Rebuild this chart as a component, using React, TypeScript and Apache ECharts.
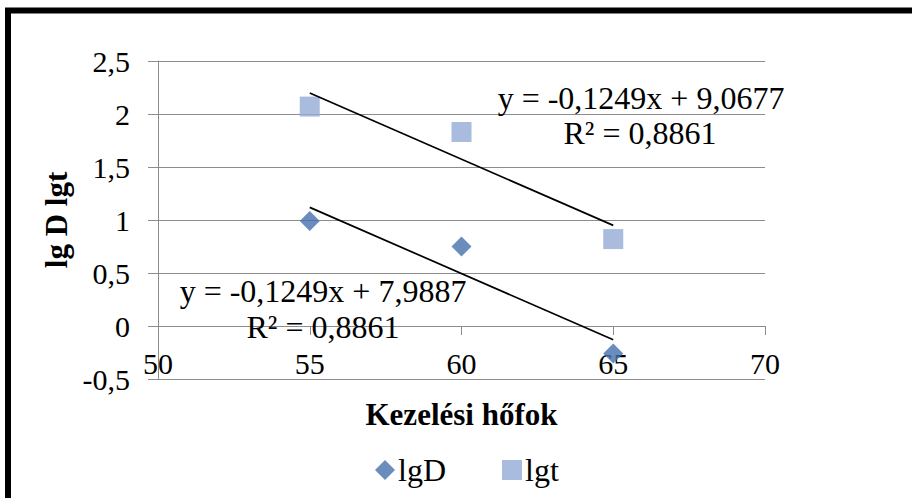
import React, { useEffect, useRef } from "react";
import * as echarts from "echarts";

const xValues = [55, 60, 65];
const lgD = [0.99, 0.75, -0.26];
const lgt = [2.07, 1.83, 0.82];
const seriesNames = ["lgD", "lgt"];
const trendD = { slope: -0.1249, intercept: 7.9887, r2: "0,8861" };
const trendT = { slope: -0.1249, intercept: 9.0677, r2: "0,8861" };
const xTicks = { min: 50, max: 70, interval: 5 };
const yTicks = { min: -0.5, max: 2.5, interval: 0.5 };

const FONT = "'Liberation Serif', 'Times New Roman', serif";
const GRAY = "#8c8c8c";
const C_D = "#4571AD";
const C_T = "#95ABD4";

const fmt = (v: number) => String(v).replace(".", ",");
const eqText = (t: { slope: number; intercept: number }) =>
  `y = ${fmt(t.slope)}x + ${fmt(t.intercept)}`;

export default function App() {
  const ref = useRef<HTMLDivElement>(null);
  useEffect(() => {
    if (!ref.current) return;
    const chart = echarts.init(ref.current, null, { renderer: "svg" });
    const trendData = (t: { slope: number; intercept: number }) =>
      [xValues[0], xValues[xValues.length - 1]].map((x) => [x, t.slope * x + t.intercept]);
    // plot height 318px for 3 units -> x axis crossing at y = 0 sits 53px above the bottom
    const zeroOffset = -((0 - yTicks.min) / (yTicks.max - yTicks.min)) * 318;
    chart.setOption({
      animation: false,
      backgroundColor: "#fff",
      textStyle: { fontFamily: FONT },
      grid: { left: 158, right: 147, top: 61, bottom: 119 },
      xAxis: {
        type: "value",
        min: xTicks.min,
        max: xTicks.max,
        interval: xTicks.interval,
        offset: zeroOffset,
        name: "Kezelési hőfok",
        nameLocation: "middle",
        nameGap: 73,
        nameTextStyle: { fontFamily: FONT, fontSize: 31, fontWeight: "bold", color: "#000" },
        axisLine: { onZero: false, lineStyle: { color: GRAY, width: 1 } },
        axisTick: { show: true, length: 9, lineStyle: { color: GRAY } },
        axisLabel: { fontFamily: FONT, fontSize: 30, color: "#000", margin: 22, formatter: fmt },
        splitLine: { show: false },
      },
      yAxis: {
        type: "value",
        min: yTicks.min,
        max: yTicks.max,
        interval: yTicks.interval,
        name: "lg D lgt",
        nameLocation: "middle",
        nameRotate: 90,
        nameGap: 86,
        nameTextStyle: { fontFamily: FONT, fontSize: 31, fontWeight: "bold", color: "#000" },
        axisLine: { show: true, onZero: false, lineStyle: { color: GRAY, width: 1 } },
        axisTick: { show: true, length: 10, lineStyle: { color: GRAY } },
        axisLabel: { fontFamily: FONT, fontSize: 30, color: "#000", margin: 28, formatter: fmt },
        splitLine: { show: true, lineStyle: { color: GRAY, width: 1 } },
      },
      legend: {
        data: [
          { name: seriesNames[0], icon: "diamond" },
          { name: seriesNames[1], icon: "rect" },
        ],
        left: 375,
        top: 454,
        padding: 0,
        itemWidth: 20,
        itemHeight: 20,
        itemGap: 56,
        textStyle: { fontFamily: FONT, fontSize: 32, color: "#000", padding: [0, 0, 0, -2] },
      },
      graphic: [
        {
          type: "rect",
          shape: { x: 8, y: 10.5, width: 1200, height: 1200 },
          style: { fill: "none", stroke: "#000", lineWidth: 6 },
          z: 100,
          silent: true,
        },
        {
          type: "text",
          x: 641,
          y: 98,
          style: { text: eqText(trendT), font: `32px ${FONT}`, fill: "#000", textAlign: "center", textVerticalAlign: "middle" },
          z: 50,
        },
        {
          type: "text",
          x: 640,
          y: 133,
          style: { text: `R² = ${trendT.r2}`, font: `32px ${FONT}`, fill: "#000", textAlign: "center", textVerticalAlign: "middle" },
          z: 50,
        },
        {
          type: "text",
          x: 323,
          y: 291,
          style: { text: eqText(trendD), font: `32px ${FONT}`, fill: "#000", textAlign: "center", textVerticalAlign: "middle" },
          z: 50,
        },
        {
          type: "text",
          x: 323,
          y: 327,
          style: { text: `R² = ${trendD.r2}`, font: `32px ${FONT}`, fill: "#000", textAlign: "center", textVerticalAlign: "middle" },
          z: 50,
        },
      ],
      series: [
        {
          name: seriesNames[0],
          type: "scatter",
          symbol: "diamond",
          symbolSize: 20,
          itemStyle: { color: C_D },
          data: xValues.map((x, i) => [x, lgD[i]]),
          z: 3,
        },
        {
          name: seriesNames[1],
          type: "scatter",
          symbol: "rect",
          symbolSize: 20,
          itemStyle: { color: C_T },
          data: xValues.map((x, i) => [x, lgt[i]]),
          z: 3,
        },
        {
          name: "trendD",
          type: "line",
          data: trendData(trendD),
          symbol: "none",
          lineStyle: { color: "#000", width: 1.7 },
          z: 4,
          silent: true,
        },
        {
          name: "trendT",
          type: "line",
          data: trendData(trendT),
          symbol: "none",
          lineStyle: { color: "#000", width: 1.7 },
          z: 4,
          silent: true,
        },
      ],
    });
    return () => chart.dispose();
  }, []);
  return (
    <div
      ref={ref}
      style={{ position: "absolute", left: 0, top: 0, width: 912, height: 498, background: "#fff" }}
    />
  );
}
